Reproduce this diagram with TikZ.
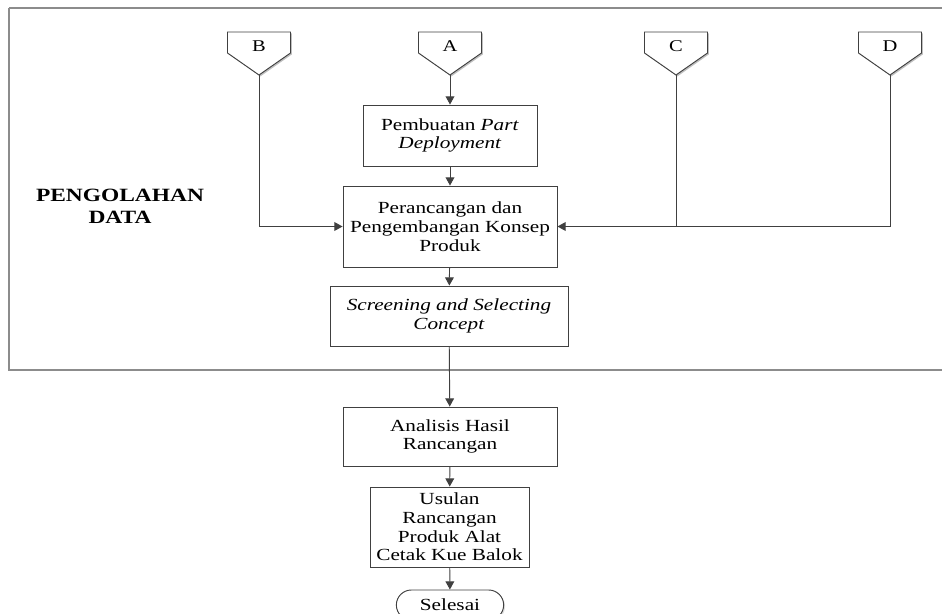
\documentclass[tikz,border=0pt]{standalone}
\usepackage{fontspec}
\setmainfont{Liberation Serif}[FakeStretch=1.25]
\usepackage{tikz}
\usetikzlibrary{shapes.misc,shadows,arrows.meta}

\begin{document}
\begin{tikzpicture}[x=0.03cm,y=-0.03cm,
  line width=0.8pt,
  box/.style={draw=black!75,fill=white,align=center,inner sep=2pt,
    font=\fontsize{14.5}{16}\selectfont,
    drop shadow={shadow xshift=1.2pt,shadow yshift=-1.2pt,fill=black!25}},
  flow/.style={draw=black!75,-{Triangle[length=7pt,width=7.5pt]}},
  joint/.style={draw=black!75}]
  \useasboundingbox (0,0) rectangle (942,614);

  % frame of the pengolahan data stage
  \draw[black!45,line width=1pt] (9,8) -- (950,8) (9,8) -- (9,370) -- (950,370);
  \node[font=\fontsize{16}{19}\selectfont\bfseries,align=center] (judul) at (120,206)
  {PENGOLAHAN\\DATA};

  % off-page connectors
  \foreach \n/\x in {B/259,A/450,C/676,D/890}
  {
    \fill[black!25,shift={(1.2pt,-1.2pt)}] (\x-31.5,32) -- (\x+31.5,32) -- (\x+31.5,53)
      -- (\x,75) -- (\x-31.5,53) -- cycle;
    \draw[black!75,fill=white] (\x-31.5,32) -- (\x+31.5,32) -- (\x+31.5,53)
      -- (\x,75) coordinate (\n t) -- (\x-31.5,53) -- cycle;
    \node[font=\fontsize{14}{16}\selectfont] (\n) at (\x,46) {\n};
  }

  \node[box,minimum width=174*0.03cm,minimum height=61*0.03cm] (part) at (450,135.5)
  {Pembuatan \textit{Part}\\\textit{Deployment}};
  \node[box,minimum width=214*0.03cm,minimum height=81*0.03cm] (rancang) at (450,226.5)
  {Perancangan dan\\Pengembangan Konsep\\Produk};
  \node[box,minimum width=238*0.03cm,minimum height=60*0.03cm] (seleksi) at (449,316)
  {\textit{Screening and Selecting}\\\textit{Concept}};
  \node[box,minimum width=214*0.03cm,minimum height=59*0.03cm] (analisis) at (450,436.5)
  {Analisis Hasil\\Rancangan};
  \node[box,minimum width=159*0.03cm,minimum height=80*0.03cm] (usulan) at (449.5,527)
  {Usulan\\Rancangan\\Produk Alat\\Cetak Kue Balok};
  \node[box,rounded rectangle,minimum width=112*0.03cm,minimum height=30*0.03cm] (selesai) at (450,605)
  {Selesai};

  \draw[flow] (At) -- (part);
  \draw[flow] (part) -- (rancang);
  \draw[flow] (Bt) |- (rancang.west);
  \draw[flow] (Dt) |- (rancang.east);
  \draw[joint] (Ct) -- (Ct |- rancang.east);
  \draw[flow] (rancang) -- (seleksi);
  \draw[flow] (seleksi) -- (analisis);
  \draw[flow] (analisis) -- (usulan);
  \draw[flow] (usulan) -- (selesai);
\end{tikzpicture}
\end{document}
